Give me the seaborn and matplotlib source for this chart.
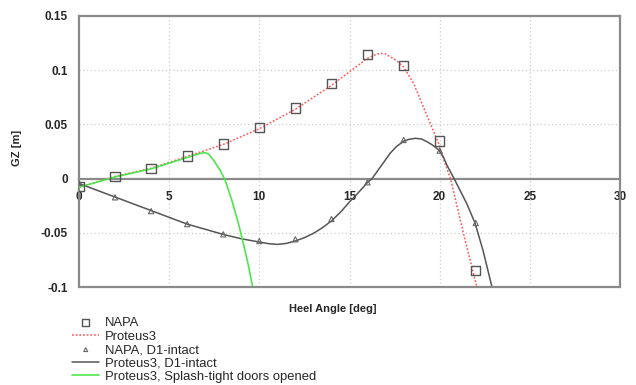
import matplotlib
matplotlib.use("Agg")
import matplotlib.pyplot as plt
import seaborn as sns
from matplotlib.ticker import MultipleLocator

# Heel angle (deg) and righting lever GZ (m)
napa_angle = [0, 2, 4, 6, 8, 10, 12, 14, 16, 18, 20, 22]
napa_gz = [-0.0075, 0.0018, 0.0095, 0.0208, 0.032, 0.047, 0.065, 0.088,
           0.1147, 0.1045, 0.0347, -0.085]

proteus_angle = [0, 2, 4, 6, 7, 8, 10, 12, 14, 15, 16, 16.4, 16.7, 17.0,
                 17.25, 17.6, 18, 18.55, 19.1, 19.55, 19.95, 20.3, 20.6,
                 21.3, 22.06]
proteus_gz = [-0.008, 0.002, 0.0095, 0.0205, 0.026, 0.0315, 0.046, 0.064,
              0.086, 0.0986, 0.111, 0.114, 0.1156, 0.115, 0.1125, 0.109,
              0.103, 0.088, 0.066, 0.048, 0.032, 0.014, 0.0, -0.049, -0.1]

napa_d1_angle = [0, 2, 4, 6, 8, 10, 12, 14, 16, 18, 20, 22]
napa_d1_gz = [-0.004, -0.0173, -0.030, -0.042, -0.0514, -0.0576, -0.056,
              -0.0373, -0.0034, 0.0356, 0.0258, -0.041]

proteus_d1_angle = [0, 2, 4, 6, 8, 9, 10, 10.5, 11, 11.5, 12, 12.5, 13,
                    13.5, 14, 14.5, 15, 15.5, 16, 16.25, 16.8, 17.25, 17.6,
                    18, 18.3, 18.65, 19.0, 19.3, 19.6, 19.95, 20.2, 20.4,
                    20.8, 21.5, 21.96, 22.4, 22.9]
proteus_d1_gz = [-0.0045, -0.017, -0.0295, -0.042, -0.0515, -0.0555,
                 -0.0585, -0.0600, -0.0607, -0.0598, -0.0575, -0.0545,
                 -0.0505, -0.0453, -0.039, -0.031, -0.0215, -0.0128,
                 -0.0035, 0.0, 0.0128, 0.0233, 0.0295, 0.0345, 0.0362,
                 0.0372, 0.0365, 0.034, 0.0310, 0.0264, 0.0200, 0.0125,
                 0.0, -0.023, -0.041, -0.066, -0.1]

splash_angle = [0, 2, 4, 6, 6.7, 7, 7.2, 7.45, 7.82, 8.1, 8.47, 8.84,
                9.11, 9.39, 9.63]
splash_gz = [-0.008, 0.0015, 0.009, 0.0195, 0.0232, 0.024, 0.0225, 0.0172,
             0.0079, -0.0013, -0.0197, -0.0413, -0.0597, -0.0797, -0.1]

x_ticks = [0, 5, 10, 15, 20, 25, 30]
y_ticks = [0.15, 0.1, 0.05, 0, -0.05, -0.1]
y_tick_labels = ["0.15", "0.1", "0.05", "0", "-0.05", "-0.1"]

sns.set_style("white")
plt.rcParams["font.family"] = ["Liberation Sans", "DejaVu Sans"]

fig = plt.figure(figsize=(6.36, 3.85), dpi=100)
ax = fig.add_axes([79 / 636, 1 - 287 / 385, 541 / 636, 271 / 385])

frame = "#8a8a8a"
ax.set_xlim(0, 30)
ax.set_ylim(-0.1, 0.15)

# dotted grid
for xv in [5, 10, 15, 20, 25]:
    ax.axvline(xv, color="#cfcfcf", lw=0.9, ls=(0, (1, 2)), zorder=0)
for yv in [0.1, 0.05, -0.05]:
    ax.axhline(yv, color="#cfcfcf", lw=0.9, ls=(0, (1, 2)), zorder=0)

sns.lineplot(x=proteus_angle, y=proteus_gz, ax=ax, sort=False,
             estimator=None, color="#ff5a5a", lw=1.1, ls=(0, (1.2, 1.2)),
             label="Proteus3", zorder=3)
sns.lineplot(x=proteus_d1_angle, y=proteus_d1_gz, ax=ax, sort=False,
             estimator=None, color="#555555", lw=1.1,
             label="Proteus3, D1-intact", zorder=3)
sns.lineplot(x=splash_angle, y=splash_gz, ax=ax, sort=False,
             estimator=None, color="#4ee64e", lw=1.2,
             label="Proteus3, Splash-tight doors opened", zorder=3)
sns.scatterplot(x=napa_angle, y=napa_gz, ax=ax, marker="s", s=45,
                facecolor="none", edgecolor="#555555", linewidth=1.0,
                label="NAPA", zorder=4)
sns.scatterplot(x=napa_d1_angle, y=napa_d1_gz, ax=ax, marker="^", s=14,
                facecolor="none", edgecolor="#666666", linewidth=0.8,
                label="NAPA, D1-intact", zorder=4)

# frame: left/top/right spines, x-axis on GZ = 0, bottom frame line
for side in ["left", "top", "right", "bottom"]:
    ax.spines[side].set_color(frame)
    ax.spines[side].set_linewidth(1.6)
ax.spines["bottom"].set_position(("data", 0))
ax.axhline(-0.1, color=frame, lw=1.6, clip_on=False, zorder=5)

ax.set_xticks(x_ticks)
ax.xaxis.set_minor_locator(MultipleLocator(1))
ax.set_xticklabels([str(t) for t in x_ticks], fontsize=8.5,
                   fontweight="bold")
ax.tick_params(axis="x", which="both", direction="out", length=2.5,
               width=0.8, color="#555555", pad=6.5)
ax.set_yticks(y_ticks)
ax.set_yticklabels(y_tick_labels, fontsize=8.5, fontweight="bold")
ax.tick_params(axis="y", direction="out", length=2, width=0.8,
               color="#555555", pad=6)

ax.set_xlabel("Heel Angle [deg]", fontsize=8, fontweight="bold")
ax.xaxis.set_label_coords((333 - 79) / 541, -0.063)
ax.set_ylabel("GZ [m]", fontsize=8, fontweight="bold")
ax.yaxis.set_label_coords(-0.105, 0.513)

handles, labels = ax.get_legend_handles_labels()
order = ["NAPA", "Proteus3", "NAPA, D1-intact", "Proteus3, D1-intact",
         "Proteus3, Splash-tight doors opened"]
hmap = dict(zip(labels, handles))
ax.legend([hmap[k] for k in order], order, loc="upper left",
          bbox_to_anchor=(72 / 636, 1 - 317 / 385),
          bbox_transform=fig.transFigure, frameon=False, fontsize=9.4,
          handlelength=2.1, handletextpad=0.4, labelspacing=0.1,
          markerscale=0.75, borderpad=0, borderaxespad=0)

fig.savefig("out.png", dpi=100)
